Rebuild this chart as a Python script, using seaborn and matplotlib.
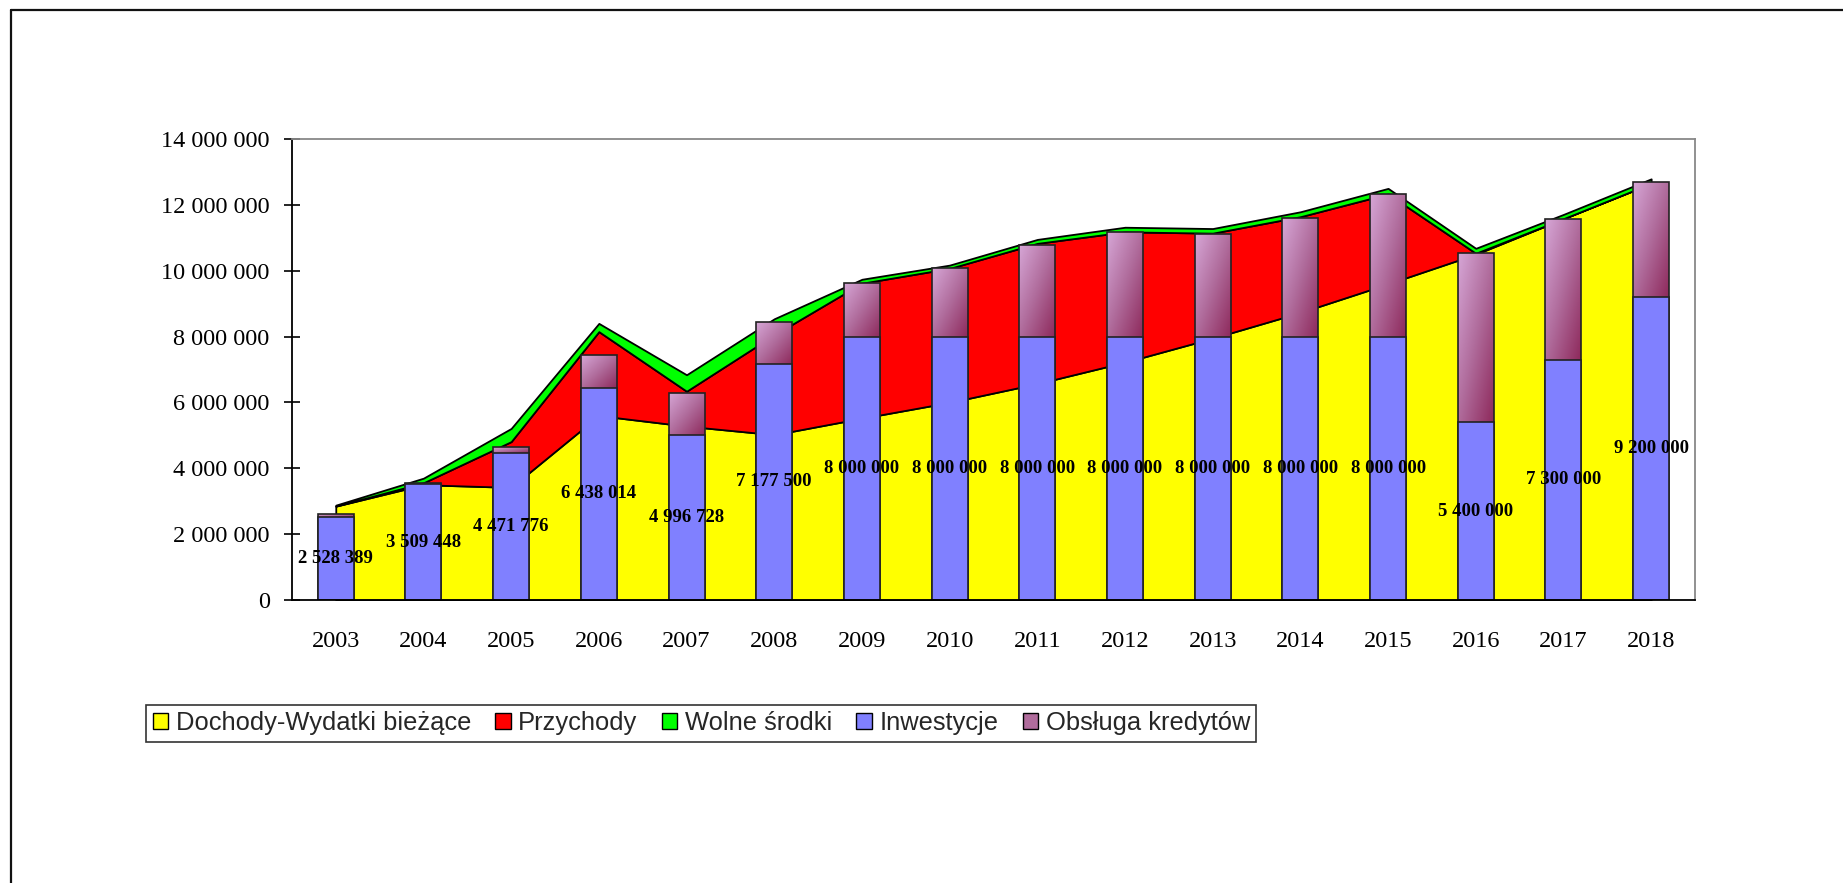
import numpy as np
import pandas as pd
import seaborn as sns
import matplotlib.pyplot as plt
from matplotlib.patches import Patch
from matplotlib.lines import Line2D
from matplotlib.colors import LinearSegmentedColormap
from matplotlib.ticker import FuncFormatter
from matplotlib.font_manager import FontProperties

sns.set_style("white")
plt.rcParams["font.family"] = ["Liberation Serif", "DejaVu Serif"]

# data (PLN)
years = [str(y) for y in range(2003, 2019)]
dochody_wydatki = [2.85e6, 3.50e6, 3.42e6, 5.60e6, 5.28e6, 5.02e6, 5.52e6, 6.00e6,
                   6.57e6, 7.22e6, 7.95e6, 8.73e6, 9.60e6, 10.50e6, 11.58e6, 12.65e6]
przychody = [0.0, 0.06e6, 1.39e6, 2.55e6, 1.06e6, 3.03e6, 4.10e6, 4.07e6,
             4.26e6, 3.96e6, 3.19e6, 2.91e6, 2.73e6, 0.03e6, 0.0, 0.0]
wolne_srodki = [0.03e6, 0.14e6, 0.40e6, 0.25e6, 0.50e6, 0.49e6, 0.12e6, 0.10e6,
                0.12e6, 0.14e6, 0.14e6, 0.15e6, 0.17e6, 0.15e6, 0.13e6, 0.14e6]
inwestycje = [2528389, 3509448, 4471776, 6438014, 4996728, 7177500, 8000000, 8000000,
              8000000, 8000000, 8000000, 8000000, 8000000, 5400000, 7300000, 9200000]
obsluga_kredytow = [0.09e6, 0.05e6, 0.18e6, 0.99e6, 1.30e6, 1.27e6, 1.64e6, 2.09e6,
                    2.77e6, 3.18e6, 3.10e6, 3.60e6, 4.34e6, 5.15e6, 4.26e6, 3.50e6]

labels = ["Dochody-Wydatki bieżące", "Przychody", "Wolne środki", "Inwestycje", "Obsługa kredytów"]

# colors
yellow = "#FFFF00"
red = "#FF0000"
green = "#00FF00"
blue = "#8080FF"
pink_cmap = LinearSegmentedColormap.from_list("pink", ["#D6A6D6", "#B06C9C", "#8E2A5C"])

df = pd.DataFrame({
    "rok": years,
    "inwestycje": inwestycje,
    "obsluga": obsluga_kredytow,
})
df["total"] = df["inwestycje"] + df["obsluga"]


def spaced(v, pos=None):
    return f"{int(round(v)):,}".replace(",", " ")


fig = plt.figure(figsize=(18.43, 8.83), dpi=100)
ax = fig.add_axes([0.1584, 0.3205, 0.7613, 0.5221])

x = np.arange(len(years))

# stacked areas behind the bars
ax.stackplot(x, dochody_wydatki, przychody, wolne_srodki,
             colors=[yellow, red, green], edgecolor="black", linewidth=1.3, zorder=1)

# full bar (investments + debt service), later filled with a gradient
sns.barplot(data=df, x="rok", y="total", color="#B06C9C", saturation=1,
            width=0.41, edgecolor="#222222", linewidth=1.2, errorbar=None,
            ax=ax, zorder=2)
pink_bars = list(ax.patches)

grad = np.add.outer(np.linspace(0, 1, 60), np.linspace(0, 1, 60)) / 2
for p, inv in zip(pink_bars, df["inwestycje"]):
    x0, w, top = p.get_x(), p.get_width(), p.get_height()
    im = ax.imshow(grad, cmap=pink_cmap, extent=[x0, x0 + w, inv, top],
                   origin="upper", aspect="auto", zorder=2.1, interpolation="bilinear")
    im.set_clip_path(p)
    p.set_facecolor("none")
    p.set_zorder(2.2)

# investments on top
sns.barplot(data=df, x="rok", y="inwestycje", color=blue, saturation=1,
            width=0.41, edgecolor="#222222", linewidth=1.2, errorbar=None,
            ax=ax, zorder=3)

for i, v in enumerate(inwestycje):
    ax.text(i, v / 2, spaced(v), ha="center", va="center",
            fontsize=13.5, fontweight="bold", color="black", zorder=5)

ax.set_xlim(-0.5, len(years) - 0.5)
ax.set_ylim(0, 14e6)
ax.set_xlabel("")
ax.set_ylabel("")

ax.set_xticks(x, years)
ax.set_xticks(np.arange(-0.5, len(years), 1.0), minor=True)
ax.set_yticks(np.arange(0, 14e6 + 1, 2e6))
ax.yaxis.set_major_formatter(FuncFormatter(spaced))

ax.tick_params(axis="x", which="major", length=0, pad=22, labelsize=17.5, colors="black")
ax.tick_params(axis="x", which="minor", length=12, direction="inout", width=1.2, color="black")
ax.tick_params(axis="y", which="major", length=12, direction="inout", width=1.2,
               pad=10, labelsize=17.5, colors="black", left=True)

for side in ["left", "bottom"]:
    ax.spines[side].set_color("black")
    ax.spines[side].set_linewidth(1.3)
    ax.spines[side].set_zorder(10)
for side in ["top", "right"]:
    ax.spines[side].set_color("#888888")
    ax.spines[side].set_linewidth(1.3)
    ax.spines[side].set_zorder(10)

# legend
handles = [
    Patch(facecolor=yellow, edgecolor="black", linewidth=1),
    Patch(facecolor=red, edgecolor="black", linewidth=1),
    Patch(facecolor=green, edgecolor="black", linewidth=1),
    Patch(facecolor=blue, edgecolor="black", linewidth=1),
    Patch(facecolor="#B06C9C", edgecolor="black", linewidth=1),
]
leg = fig.legend(handles, labels, loc="center", bbox_to_anchor=(0.3805, 0.181), ncol=5,
                 frameon=True, fancybox=False, edgecolor="black",
                 prop=FontProperties(family=["Liberation Sans", "DejaVu Sans"], size=18.4),
                 handlelength=0.6, handleheight=0.6, handletextpad=0.3,
                 columnspacing=0.95, borderpad=0.25, borderaxespad=0)
leg.get_frame().set_linewidth(1.2)

# outer frame (only left and top edges visible)
fig.add_artist(Line2D([0.006, 0.006], [0.0, 0.9887], transform=fig.transFigure,
                      color="#111111", linewidth=1.6))
fig.add_artist(Line2D([0.006, 1.0], [0.9887, 0.9887], transform=fig.transFigure,
                      color="#111111", linewidth=1.6))

fig.savefig("out.png", dpi=100)
